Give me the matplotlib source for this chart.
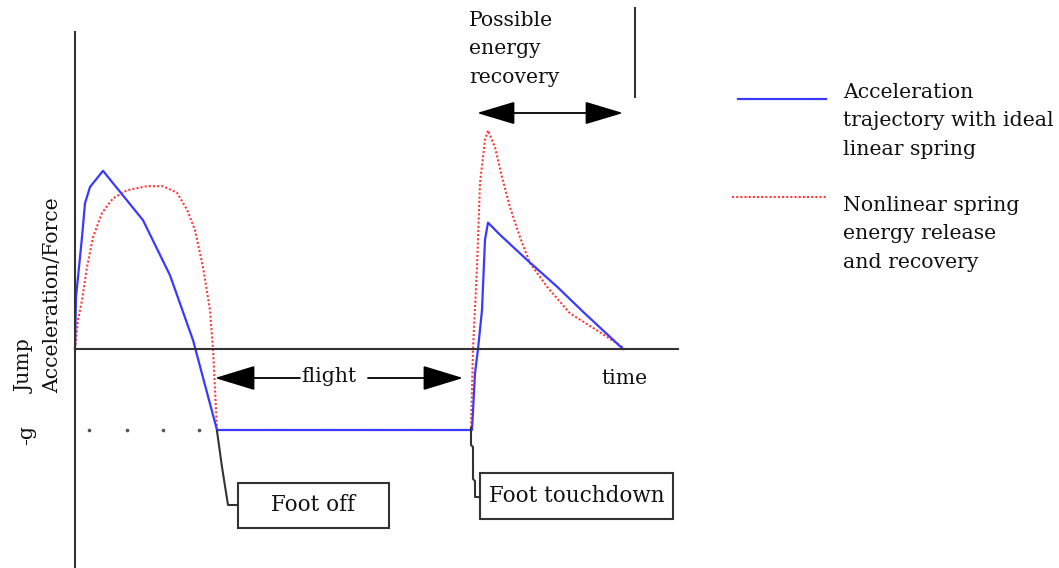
"""Jump acceleration/force sketch: linear vs nonlinear spring."""
import matplotlib
matplotlib.use("Agg")
import matplotlib.pyplot as plt
from matplotlib.patches import Rectangle

# ---- data (time, acceleration in units of g) ----
linear_t = [0.00, 0.01, 0.04, 0.07, 0.10, 0.15, 0.28, 0.68, 0.95, 1.18, 1.42,
            3.97, 4.00, 4.03, 4.07, 4.10, 4.13, 4.25, 4.52, 4.82, 5.08, 5.48]
linear_a = [0.00, 0.64, 1.01, 1.38, 1.80, 2.00, 2.20, 1.59, 0.91, 0.11, -1.00,
            -1.00, -0.30, 0.00, 0.48, 1.35, 1.56, 1.41, 1.10, 0.77, 0.46, 0.00]

nonlin_t = [0.00, 0.03, 0.07, 0.12, 0.18, 0.27, 0.38, 0.52, 0.72, 0.88, 1.02,
            1.12, 1.20, 1.28, 1.35, 1.38, 1.42, 3.96, 3.98, 4.02, 4.05, 4.10,
            4.13, 4.20, 4.27, 4.35, 4.45, 4.55, 4.72, 4.95, 5.22, 5.48]
nonlin_a = [0.00, 0.36, 0.60, 1.01, 1.38, 1.68, 1.86, 1.96, 2.01, 2.01, 1.93,
            1.72, 1.47, 1.01, 0.48, 0.00, -1.00, -1.00, 0.00, 1.01, 2.05, 2.58,
            2.70, 2.49, 2.12, 1.75, 1.38, 1.06, 0.77, 0.44, 0.23, 0.02]

g_dots_t = [0.14, 0.52, 0.88, 1.24]

linear_label = "Acceleration\ntrajectory with ideal\nlinear spring"
nonlin_label = "Nonlinear spring\nenergy release\nand recovery"

BLUE = "#3a3aff"
RED = "#ff3a3a"
AXC = "#333333"
FONT = "DejaVu Serif"
FS = 14.7

W, H = 1059, 568
fig = plt.figure(figsize=(W / 100, H / 100), dpi=100)

# main data axes: 1 time unit = 100 px, 1 g = 81 px, origin at px (75, 349)
ax = fig.add_axes([0, 0, 1, 1])
ax.set_xlim(-0.75, (W - 75) / 100)
ax.set_ylim((349 - H) / 81, 349 / 81)
for side in ["top", "right"]:
    ax.spines[side].set_visible(False)
ax.spines["left"].set_position(("data", 0))
ax.spines["bottom"].set_position(("data", 0))
ax.spines["left"].set_bounds((349 - H) / 81, (349 - 32) / 81)
ax.spines["bottom"].set_bounds(0, 6.03)
for side in ["left", "bottom"]:
    ax.spines[side].set_color(AXC)
    ax.spines[side].set_linewidth(1.5)
ax.set_xticks([])
ax.set_yticks([])
ax.patch.set_alpha(0)

ax.plot(nonlin_t, nonlin_a, color=RED, lw=1.5, ls=(0, (1, 1)))
ax.plot(linear_t, linear_a, color=BLUE, lw=1.6)
ax.plot(g_dots_t, [-1] * len(g_dots_t), ls="none", marker="o", ms=1.6,
        color="#555555")

# overlay in pixel coords for labels / callouts
ov = fig.add_axes([0, 0, 1, 1])
ov.set_xlim(0, W)
ov.set_ylim(H, 0)
ov.axis("off")
ov.patch.set_alpha(0)

txt = dict(family=FONT, fontsize=FS, color="#111111")
boxtxt = dict(txt, fontsize=15.5)

ov.text(25, 393, "Jump", rotation=90, ha="center", va="bottom", **txt)
ov.text(53, 393, "Acceleration/Force", rotation=90, ha="center", va="bottom", **txt)
ov.text(27, 435, "-g", rotation=90, ha="center", va="center", **txt)
ov.text(624, 379, "time", ha="center", va="center", **txt)

# flight arrows
arr = dict(arrowstyle="-|>,head_length=0.85,head_width=0.26", mutation_scale=30,
           color="black", lw=1.3, shrinkA=0, shrinkB=0)
ov.annotate("", xy=(215, 378), xytext=(300, 378), arrowprops=arr)
ov.annotate("", xy=(463, 378), xytext=(368, 378), arrowprops=arr)
ov.text(329, 377, "flight", ha="center", va="center", **txt)

# energy recovery
arr2 = dict(arrowstyle="<|-|>,head_length=0.8,head_width=0.24", mutation_scale=30,
            color="black", lw=1.3, shrinkA=0, shrinkB=0)
ov.annotate("", xy=(623, 113), xytext=(477, 113), arrowprops=arr2)
ov.text(469, 11, "Possible\nenergy\nrecovery", ha="left", va="top",
        linespacing=1.62, **txt)
ov.plot([635, 635], [8, 97], color=AXC, lw=1.5)

# foot off callout
ov.plot([217, 222, 228, 238], [431, 467, 505, 505], color=AXC, lw=1.5)
ov.add_patch(Rectangle((238, 483), 151, 45, fill=False, ec=AXC, lw=1.5))
ov.text(313, 505, "Foot off", ha="center", va="center", **boxtxt)

# foot touchdown callout
ov.plot([471, 471, 473, 473, 475, 475, 480],
        [428, 445, 447, 479, 481, 497, 497], color=AXC, lw=1.5)
ov.add_patch(Rectangle((480, 473), 193, 46, fill=False, ec=AXC, lw=1.5))
ov.text(577, 496, "Foot touchdown", ha="center", va="center", **boxtxt)

# legend
ov.plot([738, 826], [99, 99], color=BLUE, lw=1.6)
ov.plot([732, 826], [197, 197], color=RED, lw=1.5, ls=(0, (1, 1)))
ov.text(843, 83, linear_label, ha="left", va="top", linespacing=1.62, **txt)
ov.text(843, 196, nonlin_label, ha="left", va="top", linespacing=1.62, **txt)

fig.savefig("out.png", dpi=100)
